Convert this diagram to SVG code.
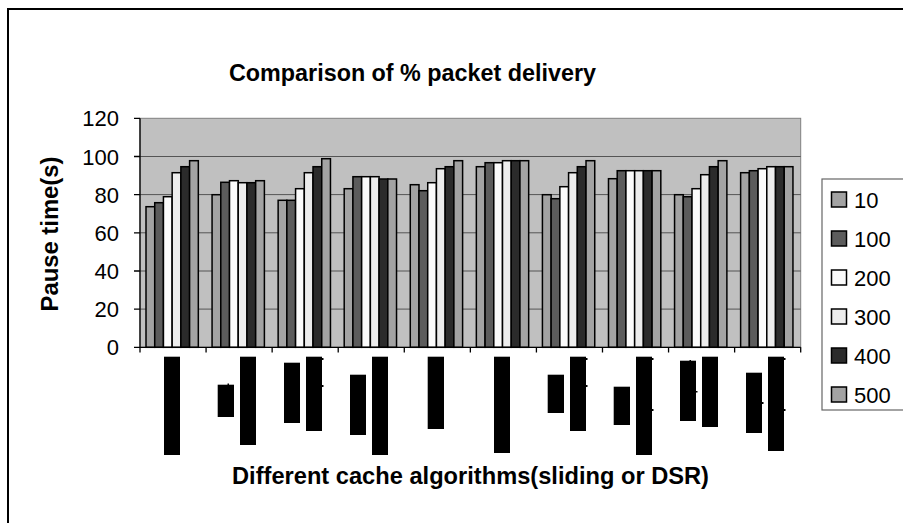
<svg xmlns="http://www.w3.org/2000/svg" width="903" height="523" viewBox="0 0 903 523">
<style>
text{font-family:"Liberation Sans",Arial,sans-serif;fill:#000}
.b{font-weight:bold}
.tick{font-size:22px;text-anchor:end}
.leg{font-size:22px}
.bar{stroke:#000;stroke-width:1.5}
.c1{fill:#a3a3a3}.c2{fill:#5c5c5c}.c3{fill:#fbfbfb}.c4{fill:#ececec}.c5{fill:#2b2b2b}.c6{fill:#a3a3a3}
.grid{stroke:#555;stroke-width:1}
.blk{fill:#000}
</style>
<rect width="903" height="523" fill="#fff"/>
<path d="M8,523 V9 H903" fill="none" stroke="#000" stroke-width="2"/>
<g id="title"><text class="b" x="412.5" y="81" font-size="23.3" text-anchor="middle" textLength="367" lengthAdjust="spacingAndGlyphs">Comparison of % packet delivery</text></g>
<g id="plot">
<rect x="140" y="118.3" width="660.7" height="229" fill="#c0c0c0" stroke="#808080" stroke-width="1"/>
<path class="grid" d="M140,309.1H800.7M140,271H800.7M140,232.8H800.7M140,194.6H800.7M140,156.5H800.7"/>
</g>
<g id="bars">
<g transform="translate(146,0)">
<rect class="bar c1" x="0" y="206.7" width="8.72" height="140.6"/><rect class="bar c2" x="8.72" y="202.7" width="8.72" height="144.6"/><rect class="bar c3" x="17.44" y="196.7" width="8.72" height="150.6"/><rect class="bar c4" x="26.16" y="172.7" width="8.72" height="174.6"/><rect class="bar c5" x="34.88" y="166.7" width="8.72" height="180.6"/><rect class="bar c6" x="43.6" y="160.7" width="8.72" height="186.6"/>
</g>
<g transform="translate(212.07,0)">
<rect class="bar c1" x="0" y="194.7" width="8.72" height="152.6"/><rect class="bar c2" x="8.72" y="182.3" width="8.72" height="165"/><rect class="bar c3" x="17.44" y="180.7" width="8.72" height="166.6"/><rect class="bar c4" x="26.16" y="182.7" width="8.72" height="164.6"/><rect class="bar c5" x="34.88" y="182.7" width="8.72" height="164.6"/><rect class="bar c6" x="43.6" y="180.7" width="8.72" height="166.6"/>
</g>
<g transform="translate(278.14,0)">
<rect class="bar c1" x="0" y="200.3" width="8.72" height="147"/><rect class="bar c2" x="8.72" y="200.3" width="8.72" height="147"/><rect class="bar c3" x="17.44" y="188.7" width="8.72" height="158.6"/><rect class="bar c4" x="26.16" y="172.7" width="8.72" height="174.6"/><rect class="bar c5" x="34.88" y="166.7" width="8.72" height="180.6"/><rect class="bar c6" x="43.6" y="158.7" width="8.72" height="188.6"/>
</g>
<g transform="translate(344.21,0)">
<rect class="bar c1" x="0" y="188.7" width="8.72" height="158.6"/><rect class="bar c2" x="8.72" y="176.7" width="8.72" height="170.6"/><rect class="bar c3" x="17.44" y="176.7" width="8.72" height="170.6"/><rect class="bar c4" x="26.16" y="176.7" width="8.72" height="170.6"/><rect class="bar c5" x="34.88" y="179" width="8.72" height="168.3"/><rect class="bar c6" x="43.6" y="179" width="8.72" height="168.3"/>
</g>
<g transform="translate(410.28,0)">
<rect class="bar c1" x="0" y="184.7" width="8.72" height="162.6"/><rect class="bar c2" x="8.72" y="190.7" width="8.72" height="156.6"/><rect class="bar c3" x="17.44" y="182.7" width="8.72" height="164.6"/><rect class="bar c4" x="26.16" y="168.7" width="8.72" height="178.6"/><rect class="bar c5" x="34.88" y="166.7" width="8.72" height="180.6"/><rect class="bar c6" x="43.6" y="160.7" width="8.72" height="186.6"/>
</g>
<g transform="translate(476.35,0)">
<rect class="bar c1" x="0" y="166.7" width="8.72" height="180.6"/><rect class="bar c2" x="8.72" y="162.7" width="8.72" height="184.6"/><rect class="bar c3" x="17.44" y="162.7" width="8.72" height="184.6"/><rect class="bar c4" x="26.16" y="160.7" width="8.72" height="186.6"/><rect class="bar c5" x="34.88" y="160.7" width="8.72" height="186.6"/><rect class="bar c6" x="43.6" y="160.7" width="8.72" height="186.6"/>
</g>
<g transform="translate(542.42,0)">
<rect class="bar c1" x="0" y="194.7" width="8.72" height="152.6"/><rect class="bar c2" x="8.72" y="198.7" width="8.72" height="148.6"/><rect class="bar c3" x="17.44" y="186.7" width="8.72" height="160.6"/><rect class="bar c4" x="26.16" y="172.7" width="8.72" height="174.6"/><rect class="bar c5" x="34.88" y="166.7" width="8.72" height="180.6"/><rect class="bar c6" x="43.6" y="160.7" width="8.72" height="186.6"/>
</g>
<g transform="translate(608.49,0)">
<rect class="bar c1" x="0" y="178.7" width="8.72" height="168.6"/><rect class="bar c2" x="8.72" y="170.7" width="8.72" height="176.6"/><rect class="bar c3" x="17.44" y="170.7" width="8.72" height="176.6"/><rect class="bar c4" x="26.16" y="170.7" width="8.72" height="176.6"/><rect class="bar c5" x="34.88" y="170.7" width="8.72" height="176.6"/><rect class="bar c6" x="43.6" y="170.7" width="8.72" height="176.6"/>
</g>
<g transform="translate(674.56,0)">
<rect class="bar c1" x="0" y="194.7" width="8.72" height="152.6"/><rect class="bar c2" x="8.72" y="196.7" width="8.72" height="150.6"/><rect class="bar c3" x="17.44" y="188.7" width="8.72" height="158.6"/><rect class="bar c4" x="26.16" y="174.7" width="8.72" height="172.6"/><rect class="bar c5" x="34.88" y="166.7" width="8.72" height="180.6"/><rect class="bar c6" x="43.6" y="160.7" width="8.72" height="186.6"/>
</g>
<g transform="translate(740.63,0)">
<rect class="bar c1" x="0" y="172.7" width="8.72" height="174.6"/><rect class="bar c2" x="8.72" y="170.7" width="8.72" height="176.6"/><rect class="bar c3" x="17.44" y="168.7" width="8.72" height="178.6"/><rect class="bar c4" x="26.16" y="166.7" width="8.72" height="180.6"/><rect class="bar c5" x="34.88" y="166.7" width="8.72" height="180.6"/><rect class="bar c6" x="43.6" y="166.7" width="8.72" height="180.6"/>
</g>
</g>
<g id="axes" fill="none" stroke="#000" stroke-width="1.3">
<path d="M140,118.3V347.3H800.7"/>
<path d="M134,347.3H140M134,309.1H140M134,271H140M134,232.8H140M134,194.6H140M134,156.5H140M134,118.3H140"/>
<path d="M140,347.3V352.5M206.07,347.3V352.5M272.14,347.3V352.5M338.21,347.3V352.5M404.28,347.3V352.5M470.35,347.3V352.5M536.42,347.3V352.5M602.49,347.3V352.5M668.56,347.3V352.5M734.63,347.3V352.5M800.7,347.3V352.5"/>
</g>
<g id="yticks">
<text class="tick" x="119" y="355.3">0</text>
<text class="tick" x="119" y="317.1">20</text>
<text class="tick" x="119" y="279">40</text>
<text class="tick" x="119" y="240.8">60</text>
<text class="tick" x="119" y="202.6">80</text>
<text class="tick" x="119" y="164.5">100</text>
<text class="tick" x="119" y="126.3">120</text>
</g>
<g id="ylabel"><text class="b" font-size="23.8" text-anchor="middle" transform="translate(58,234) rotate(-90)" textLength="155" lengthAdjust="spacingAndGlyphs">Pause time(s)</text></g>
<g id="xlabel"><text class="b" x="470.5" y="484" font-size="23.6" text-anchor="middle" textLength="477" lengthAdjust="spacingAndGlyphs">Different cache algorithms(sliding or DSR)</text></g>
<g id="xcatblocks" class="blk">
<rect x="164" y="356.7" width="16" height="98.3"/>
<rect x="217.7" y="384.7" width="16.3" height="32.3"/>
<rect x="240" y="356.7" width="16" height="88.3"/>
<rect x="284" y="362.7" width="16" height="60.3"/>
<rect x="306" y="356.7" width="16" height="74.3"/>
<rect x="350" y="374.7" width="16" height="60.3"/>
<rect x="372" y="356.7" width="16" height="98.3"/>
<rect x="427.7" y="356.7" width="16.3" height="72.3"/>
<rect x="494" y="356.7" width="16" height="96.3"/>
<rect x="547.7" y="374.7" width="16.3" height="38.3"/>
<rect x="570" y="356.7" width="16" height="74.3"/>
<rect x="613.7" y="386.7" width="16.3" height="38.3"/>
<rect x="636" y="356.7" width="16" height="98.3"/>
<rect x="680" y="360.7" width="16" height="60.3"/>
<rect x="702" y="356.7" width="16" height="70.3"/>
<rect x="746" y="372.7" width="16" height="60.3"/>
<rect x="768" y="356.7" width="16" height="94.3"/>
<rect x="227.5" y="383.5" width="1.5" height="1.5"/>
<rect x="322" y="358" width="1.5" height="2"/><rect x="322" y="385" width="1.5" height="2"/>
<rect x="586" y="358" width="1.5" height="2"/><rect x="586" y="385" width="1.5" height="2"/>
<rect x="652" y="358" width="1.5" height="2"/><rect x="652" y="409" width="1.5" height="2"/>
<rect x="689.5" y="360" width="1.5" height="1.5"/><rect x="696" y="391" width="1.5" height="1.5"/>
<rect x="762" y="402" width="1.5" height="2"/><rect x="784" y="358" width="1.5" height="2"/><rect x="784" y="409" width="1.5" height="2"/>
</g>
<g id="legend">
<rect x="822" y="179" width="100" height="231" fill="#fff" stroke="#666" stroke-width="1.2"/>
<g id="leg-10"><rect class="bar c1" x="831.5" y="192" width="15" height="15"/><text class="leg" x="854" y="207.5">10</text></g>
<g id="leg-100"><rect class="bar c2" x="831.5" y="231" width="15" height="15"/><text class="leg" x="854" y="246.5">100</text></g>
<g id="leg-200"><rect class="bar c3" x="831.5" y="270" width="15" height="15"/><text class="leg" x="854" y="285.5">200</text></g>
<g id="leg-300"><rect class="bar c4" x="831.5" y="309" width="15" height="15"/><text class="leg" x="854" y="324.5">300</text></g>
<g id="leg-400"><rect class="bar c5" x="831.5" y="348" width="15" height="15"/><text class="leg" x="854" y="363.5">400</text></g>
<g id="leg-500"><rect class="bar c6" x="831.5" y="387" width="15" height="15"/><text class="leg" x="854" y="402.5">500</text></g>
</g>
</svg>
